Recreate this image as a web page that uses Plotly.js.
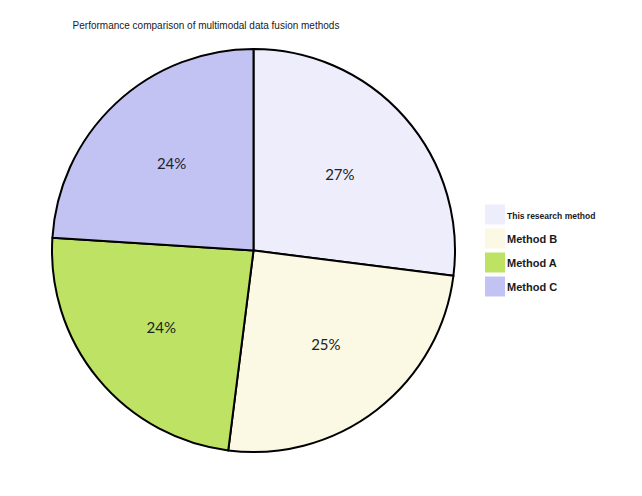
<!DOCTYPE html>
<html>
<head>
<meta charset="utf-8">
<script src="https://cdn.plot.ly/plotly-3.0.1.min.js"></script>
<style>html,body{margin:0;padding:0;background:#fff;}#chart{width:642px;height:496px;}</style>
</head>
<body>
<div id="chart"></div>
<script>
var methods = ["This research method", "Method B", "Method A", "Method C"];
var shares = [27, 25, 24, 24];
var sliceColors = ["#EEEDFB", "#FBF8E3", "#BEE264", "#C3C3F3"];
var chartTitle = "Performance comparison of multimodal data fusion methods";

var W = 642, H = 496;
var trace = {
  type: "pie",
  labels: methods,
  values: shares,
  sort: false,
  direction: "clockwise",
  rotation: 0,
  textinfo: "percent",
  texttemplate: "%{percent:.0%}",
  textposition: "inside",
  insidetextorientation: "horizontal",
  textfont: {family: "Lato, 'DejaVu Sans', sans-serif", size: 15, color: "#222"},
  marker: {colors: sliceColors, line: {color: "#000", width: 2}},
  domain: {x: [52 / W, 455 / W], y: [1 - 452 / H, 1 - 49 / H]},
  hoverinfo: "label+percent"
};

var layout = {
  width: W, height: H,
  margin: {l: 0, r: 0, t: 0, b: 0},
  paper_bgcolor: "#fff",
  title: {
    text: chartTitle,
    font: {family: "'Liberation Sans', Arial, sans-serif", size: 10, color: "#1a1a1a"},
    x: 206 / W, xanchor: "center", xref: "paper",
    y: 1 - 25 / H, yanchor: "middle", yref: "container"
  },
  showlegend: true,
  legend: {
    x: 475 / W, xanchor: "left",
    y: 1 - 200 / H, yanchor: "top",
    font: {family: "'Liberation Sans', Arial, sans-serif", size: 11, color: "#1a1a1a", weight: "bold"},
    bgcolor: "rgba(0,0,0,0)",
    traceorder: "normal"
  }
};

Plotly.newPlot("chart", [trace], layout, {displayModeBar: false, staticPlot: true}).then(function (gd) {
  var legend = gd.querySelector(".legend");
  if (!legend) return;
  var sb = legend.querySelector(".scrollbox");
  if (sb) sb.removeAttribute("clip-path");
  var items = legend.querySelectorAll(".traces");
  var y0 = null;
  items.forEach(function (g, i) {
    var tr = g.getAttribute("transform") || "";
    var m = tr.match(/translate\(\s*([-\d.]+)[ ,]+([-\d.]+)/);
    var x = m ? parseFloat(m[1]) : 0;
    var y = m ? parseFloat(m[2]) : 0;
    if (y0 === null) y0 = y;
    g.setAttribute("transform", "translate(" + x + "," + (y0 + i * 24) + ")");
    var p = g.querySelector(".legendpoints path");
    if (p) { p.setAttribute("d", "M10,10H-10V-10H10Z"); p.style.strokeWidth = "0"; }
    var t = g.querySelector("text.legendtext");
    if (t) {
      t.setAttribute("x", 32);
      if (i === 0) t.style.fontSize = "8.5px";
    }
  });
});
</script>
</body>
</html>
